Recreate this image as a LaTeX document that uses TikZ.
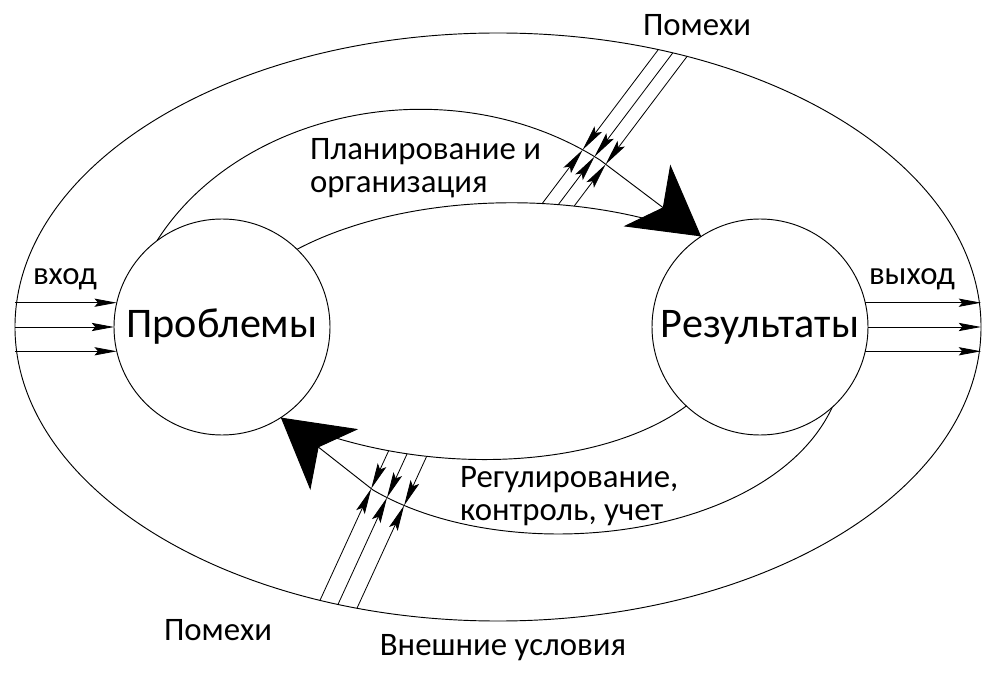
\documentclass[tikz,border=0pt]{standalone}
\usepackage{fontspec}
\setmainfont{Carlito}
\usetikzlibrary{arrows.meta,positioning,shapes.geometric,intersections}
\tikzset{
  stage/.style={circle,draw,line width=.8pt,minimum size=6.48cm,inner sep=0pt,outer sep=0pt,font=\fontsize{36}{40}\selectfont},
  envir/.style={ellipse,draw,line width=.8pt,minimum width=28.98cm,minimum height=17.64cm,inner sep=0pt,outer sep=0pt},
  band/.style={line width=.8pt},
  bigtip/.style={line width=.8pt,-{Stealth[length=58pt,width=66pt,inset=17pt]}},
  flow/.style={line width=.7pt,-{Stealth[length=19pt,width=7pt,inset=3pt]}},
  noise/.style={line width=.7pt,-{Stealth[length=22pt,width=8pt,inset=4pt]}},
  lab/.style={font=\fontsize{28}{28}\selectfont},
}
\begin{document}
\begin{tikzpicture}[x=0.03cm,y=-0.03cm]
  \useasboundingbox (0,0) rectangle (996,680);
  \node[envir] (env) at (498,327) {};
  \node[stage] (prob) at (222,327) {Проблемы};
  \node[stage] (res) at (760,327) {Результаты};

  \draw[band,name path=planin] (prob.46) .. controls (400,195) and (570,185) .. (res.123);
  \draw[bigtip,name path=planout] (prob.127) .. controls (240,110) and (450,65) .. (600,160) -- (res.123);
  \draw[band,name path=regin] (res.227) .. controls (600,470) and (420,480) .. (prob.-57);
  \draw[bigtip,name path=regout] (res.-48) .. controls (770,540) and (510,570) .. (373,490) -- (prob.-57);

  \foreach \a in {167,180,193}
    \draw[flow] (env.west |- prob.\a) -- (prob.\a);
  \foreach \a in {13,0,-13}
    \draw[flow] (res.\a) -- (env.east |- res.\a);

  \foreach \i/\tx/\ty in {0/658/50,1/672.7/53,2/687/56.5} {
    \coordinate (nt\i) at (\tx,\ty);
    \path[name path=nh\i] (nt\i) -- ++(-132,175);
    \path[name intersections={of={nh\i} and planout,by={nm\i}}];
    \path[name intersections={of={nh\i} and planin,by={nb\i}}];
    \draw[noise] (nt\i) -- (nm\i);
    \draw[noise] (nb\i) -- (nm\i);
  }
  \foreach \i/\bx/\by in {0/320/600.3,1/338/604.4,2/357/608.2} {
    \coordinate (ne\i) at (\bx,\by);
    \path[name path=nk\i] (ne\i) -- ++(78,-170);
    \path[name intersections={of={nk\i} and regout,by={nc\i}}];
    \path[name intersections={of={nk\i} and regin,by={nd\i}}];
    \draw[noise] (ne\i) -- (nc\i);
    \draw[noise] (nd\i) -- (nc\i);
  }

  \node[lab,anchor=base] (noisetop) at (697,36) {Помехи};
  \node[lab,anchor=west,align=left] (plan) at (306,168) {Планирование и\\организация};
  \node[lab,anchor=west,align=left] (reg) at (456,496) {Регулирование,\\контроль, учет};
  \node[lab,anchor=base] (noisebot) at (218,640) {Помехи};
  \node[lab,anchor=base] (ext) at (503,655) {Внешние условия};
  \node[lab,anchor=base] (inlab) at (65,285) {вход};
  \node[lab,anchor=base] (outlab) at (912,285) {выход};
\end{tikzpicture}
\end{document}
